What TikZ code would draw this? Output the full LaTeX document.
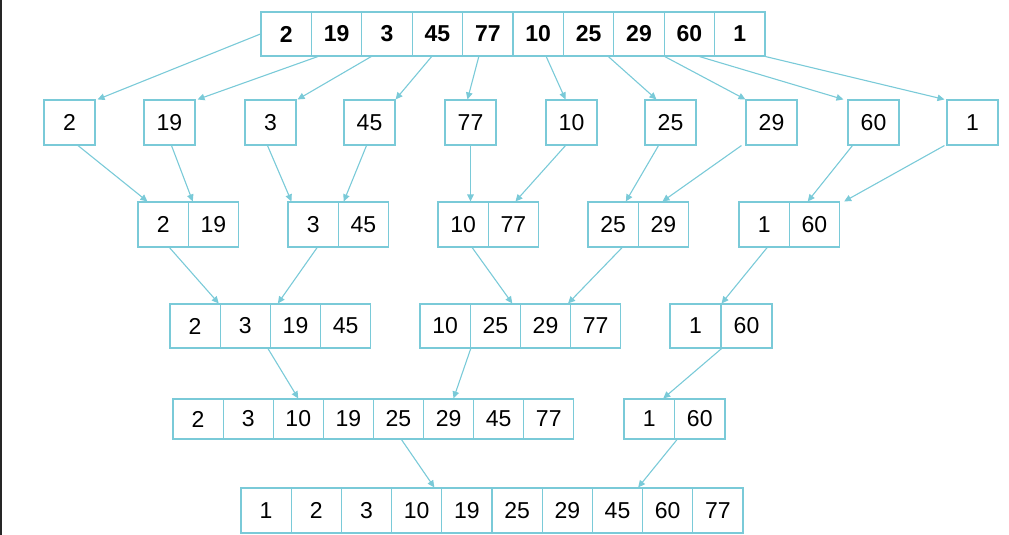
\documentclass[tikz,border=0pt]{standalone}
\usepackage{fontspec}
\setmainfont{Liberation Sans}
\usetikzlibrary{arrows.meta}
\definecolor{lc}{RGB}{122,202,216}
\definecolor{edge}{RGB}{38,38,38}
\tikzset{
  cell/.style={draw=lc, line width=1.1pt, inner sep=0pt, text=black,
    font=\fontsize{23}{23}\selectfont},
  boldcell/.style={cell, font=\fontsize{23}{23}\selectfont\bfseries},
  arr/.style={draw=lc, line width=1.1pt, -{Triangle[length=7pt,width=6.5pt]}}
}
\begin{document}
\begin{tikzpicture}[x=1pt,y=-1pt]
\useasboundingbox (0,0) rectangle (1009,535);
\fill[edge] (0,0) rectangle (2,535);
% row 1
\foreach \v [count=\i] in {2,19,3,45,77,10,25,29,60,1}
  \node[boldcell, minimum width=50.4pt, minimum height=44pt] (t\i) at ({261+50.4*(\i-0.5)},34) {\v};
% row 2
\foreach \v/\l [count=\i] in {2/44,19/144,3/245,45/344,77/445,10/546,25/645,29/746,60/848,1/947}
  \node[cell, minimum width=51pt, minimum height=45pt] (s\i) at ({\l+25.5},122.5) {\v};
% row 3
\foreach \a/\b/\l [count=\k] in {2/19/138,3/45/288,10/77/438,25/29/588,1/60/739}{
  \node[cell, minimum width=50.3pt, minimum height=45pt] (pa\k) at ({\l+25.15},224.5) {\a};
  \node[cell, minimum width=50.3pt, minimum height=45pt] (pb\k) at ({\l+75.45},224.5) {\b};
}
% row 4
\foreach \v [count=\i] in {2,3,19,45}
  \node[cell, minimum width=50.2pt, minimum height=44pt] (qa\i) at ({170+50.2*(\i-0.5)},326) {\v};
\foreach \v [count=\i] in {10,25,29,77}
  \node[cell, minimum width=50.2pt, minimum height=44pt] (qb\i) at ({420+50.2*(\i-0.5)},326) {\v};
\foreach \v [count=\i] in {1,60}
  \node[cell, minimum width=51pt, minimum height=44pt] (qc\i) at ({670+51*(\i-0.5)},326) {\v};
% row 5
\foreach \v [count=\i] in {2,3,10,19,25,29,45,77}
  \node[cell, minimum width=50.1pt, minimum height=40pt] (o\i) at ({173+50.1*(\i-0.5)},419) {\v};
\foreach \v [count=\i] in {1,60}
  \node[cell, minimum width=50.5pt, minimum height=40pt] (op\i) at ({624+50.5*(\i-0.5)},419) {\v};
% row 6
\foreach \v [count=\i] in {1,2,3,10,19,25,29,45,60,77}
  \node[cell, minimum width=50.2pt, minimum height=45pt] (f\i) at ({241+50.2*(\i-0.5)},510.5) {\v};

% arrows row 1 -> row 2
\draw[arr] (t1.west) -- ([xshift=2pt]s1.north east);
\draw[arr] ([xshift=7pt]t2.south west) -- ([xshift=2pt]s2.north east);
\draw[arr] ([xshift=10pt]t3.south west) -- ([xshift=1pt]s3.north east);
\draw[arr] ([xshift=20pt]t4.south west) -- (s4.north east);
\draw[arr] ([xshift=-9pt]t5.south) -- ([xshift=-3pt]s5.north);
\draw[arr] ([xshift=8pt]t6.south) -- ([xshift=-6pt]s6.north);
\draw[arr] ([xshift=-6pt]t7.south east) -- ([xshift=12pt]s7.north west);
\draw[arr] (t8.south east) -- (s8.north west);
\draw[arr] ([xshift=10pt]t9.south) -- ([xshift=-4pt]s9.north west);
\draw[arr] (t10.south east) -- ([xshift=-2pt]s10.north west);

% arrows row 2 -> row 3
\draw[arr] ([xshift=8.5pt]s1.south) -- ([xshift=10pt]pa1.north west);
\draw[arr] ([xshift=2pt]s2.south) -- ([xshift=5pt]pb1.north west);
\draw[arr] ([xshift=-3pt]s3.south) -- ([xshift=4pt]pa2.north west);
\draw[arr] ([xshift=-3pt]s4.south) -- ([xshift=6pt]pb2.north west);
\draw[arr] (s5.south) -- (s5.south |- pa3.north);
\draw[arr] ([xshift=-6pt]s6.south) -- ([xshift=2pt]pb3.north);
\draw[arr] ([xshift=-12pt]s7.south) -- ([xshift=-13pt]pa4.north east);
\draw[arr] ([xshift=-4pt]s8.south west) -- ([xshift=-1pt]pb4.north);
\draw[arr] ([xshift=5pt]s9.south west) -- ([xshift=19pt]pb5.north west);
\draw[arr] ([xshift=-2pt]s10.south west) -- ([xshift=4pt]pb5.north east);

% arrows row 3 -> row 4
\draw[arr] ([xshift=32pt]pa1.south west) -- ([xshift=-2pt]qa1.north east);
\draw[arr] ([xshift=4pt]pa2.south) -- ([xshift=8pt]qa3.north west);
\draw[arr] ([xshift=9pt]pa3.south) -- ([xshift=17pt]qb2.north);
\draw[arr] ([xshift=9pt]pa4.south) -- ([xshift=-2pt]qb4.north west);
\draw[arr] ([xshift=3pt]pa5.south) -- (qc1.north east);

% arrows row 4 -> row 5
\draw[arr] ([xshift=-3pt]qa2.south east) -- (o3.north);
\draw[arr] (qb1.south east) -- ([xshift=5pt]o6.north);
\draw[arr] (qc1.south east) -- ([xshift=14pt]op1.north);

% arrows row 5 -> row 6
\draw[arr] ([xshift=3pt]o5.south) -- ([xshift=-8pt]f4.north east);
\draw[arr] ([xshift=2pt]op1.south east) -- ([xshift=-5pt]f8.north east);
\end{tikzpicture}
\end{document}
